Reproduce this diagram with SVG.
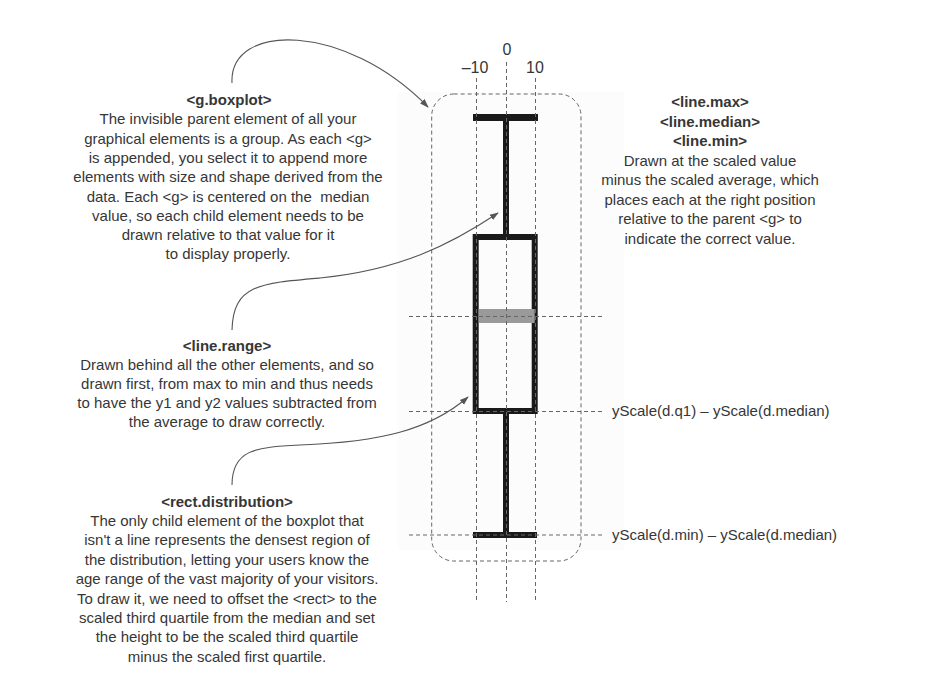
<svg xmlns="http://www.w3.org/2000/svg" width="939" height="687" viewBox="0 0 939 687">
<defs>
<style>
text{font-family:"Liberation Sans",Arial,sans-serif;font-size:15px;fill:#363636}
.c{text-anchor:middle}
.b{font-weight:bold}
.guide{stroke:#666;stroke-width:1;stroke-dasharray:4 3;fill:none}
.bar{stroke:#1a1a1a;fill:none}
.conn{stroke:#555;stroke-width:1.1;fill:none;marker-end:url(#ah)}
</style>
<marker id="ah" viewBox="0 0 10 10" refX="9" refY="5" markerWidth="9" markerHeight="9" markerUnits="userSpaceOnUse" orient="auto">
<path d="M0,1.5 L10,5 L0,8.5 z" fill="#555"/>
</marker>
</defs>
<rect width="939" height="687" fill="#fff"/>
<rect x="398" y="92" width="226" height="458" fill="#fcfcfc"/>

<g id="boxplot">
<line class="bar" x1="473" y1="117.5" x2="538" y2="117.5" stroke-width="7"/>
<line class="bar" x1="506" y1="117" x2="506" y2="237" stroke-width="6"/>
<rect class="bar" x="475.7" y="237" width="59" height="174" stroke-width="6"/>
<rect x="478.7" y="309" width="56" height="14" fill="#9a9a9a"/>
<line class="bar" x1="506" y1="414" x2="506" y2="535" stroke-width="6"/>
<line class="bar" x1="473" y1="535" x2="537" y2="535" stroke-width="6"/>
</g>

<g id="guides">
<rect class="guide" x="431.7" y="94" width="149.3" height="467" rx="22" ry="22"/>
<line class="guide" x1="476.5" y1="78" x2="476.5" y2="600"/>
<line class="guide" x1="506.5" y1="62" x2="506.5" y2="602"/>
<line class="guide" x1="535.5" y1="78" x2="535.5" y2="600"/>
<line class="guide" x1="409" y1="316.5" x2="603" y2="316.5"/>
<line class="guide" x1="409" y1="411.5" x2="603" y2="411.5"/>
<line class="guide" x1="409" y1="535" x2="603" y2="535"/>
</g>

<g id="axis-labels">
<text class="c" x="507" y="55" style="font-size:16px">0</text>
<text class="c" x="475" y="73" style="font-size:16px">–10</text>
<text class="c" x="535" y="73" style="font-size:16px">10</text>
<text x="612" y="416">yScale(d.q1) – yScale(d.median)</text>
<text x="612" y="540">yScale(d.min) – yScale(d.median)</text>
</g>

<g id="connectors">
<path class="conn" d="M232,83 C229,22 345,22 428,107"/>
<path class="conn" d="M232,330 C233,285 260,283 320,278 C400,270 450,245 498,213"/>
<path class="conn" d="M232,485 C232,450 255,447 300,445 C380,442 430,430 468,397"/>
</g>

<g id="note-gboxplot">
<text class="c b" x="229" y="105">&lt;g.boxplot&gt;</text>
<text class="c" x="228" y="124.3">The invisible parent element of all your</text>
<text class="c" x="228" y="143.6">graphical elements is a group. As each &lt;g&gt;</text>
<text class="c" x="228" y="162.9">is appended, you select it to append more</text>
<text class="c" x="228" y="182.2">elements with size and shape derived from the</text>
<text class="c" x="228" y="201.5" xml:space="preserve">data. Each &lt;g&gt; is centered on the  median</text>
<text class="c" x="228" y="220.8">value, so each child element needs to be</text>
<text class="c" x="228" y="240.1">drawn relative to that value for it</text>
<text class="c" x="228" y="259.4">to display properly.</text>
</g>

<g id="note-lines">
<text class="c b" x="710" y="107">&lt;line.max&gt;</text>
<text class="c b" x="710" y="126.5">&lt;line.median&gt;</text>
<text class="c b" x="710" y="146">&lt;line.min&gt;</text>
<text class="c" x="710" y="165.5">Drawn at the scaled value</text>
<text class="c" x="710" y="185">minus the scaled average, which</text>
<text class="c" x="710" y="204.5">places each at the right position</text>
<text class="c" x="710" y="224">relative to the parent &lt;g&gt; to</text>
<text class="c" x="710" y="243.5">indicate the correct value.</text>
</g>

<g id="note-range">
<text class="c b" x="227" y="350.5">&lt;line.range&gt;</text>
<text class="c" x="227" y="369.7">Drawn behind all the other elements, and so</text>
<text class="c" x="227" y="388.9">drawn first, from max to min and thus needs</text>
<text class="c" x="227" y="408.1">to have the y1 and y2 values subtracted from</text>
<text class="c" x="227" y="427.3">the average to draw correctly.</text>
</g>

<g id="note-distribution">
<text class="c b" x="227" y="506.5">&lt;rect.distribution&gt;</text>
<text class="c" x="227" y="525.9">The only child element of the boxplot that</text>
<text class="c" x="227" y="545.3">isn't a line represents the densest region of</text>
<text class="c" x="227" y="564.7">the distribution, letting your users know the</text>
<text class="c" x="227" y="584.1">age range of the vast majority of your visitors.</text>
<text class="c" x="227" y="603.5">To draw it, we need to offset the &lt;rect&gt; to the</text>
<text class="c" x="227" y="622.9">scaled third quartile from the median and set</text>
<text class="c" x="227" y="642.3">the height to be the scaled third quartile</text>
<text class="c" x="227" y="661.7">minus the scaled first quartile.</text>
</g>
</svg>
